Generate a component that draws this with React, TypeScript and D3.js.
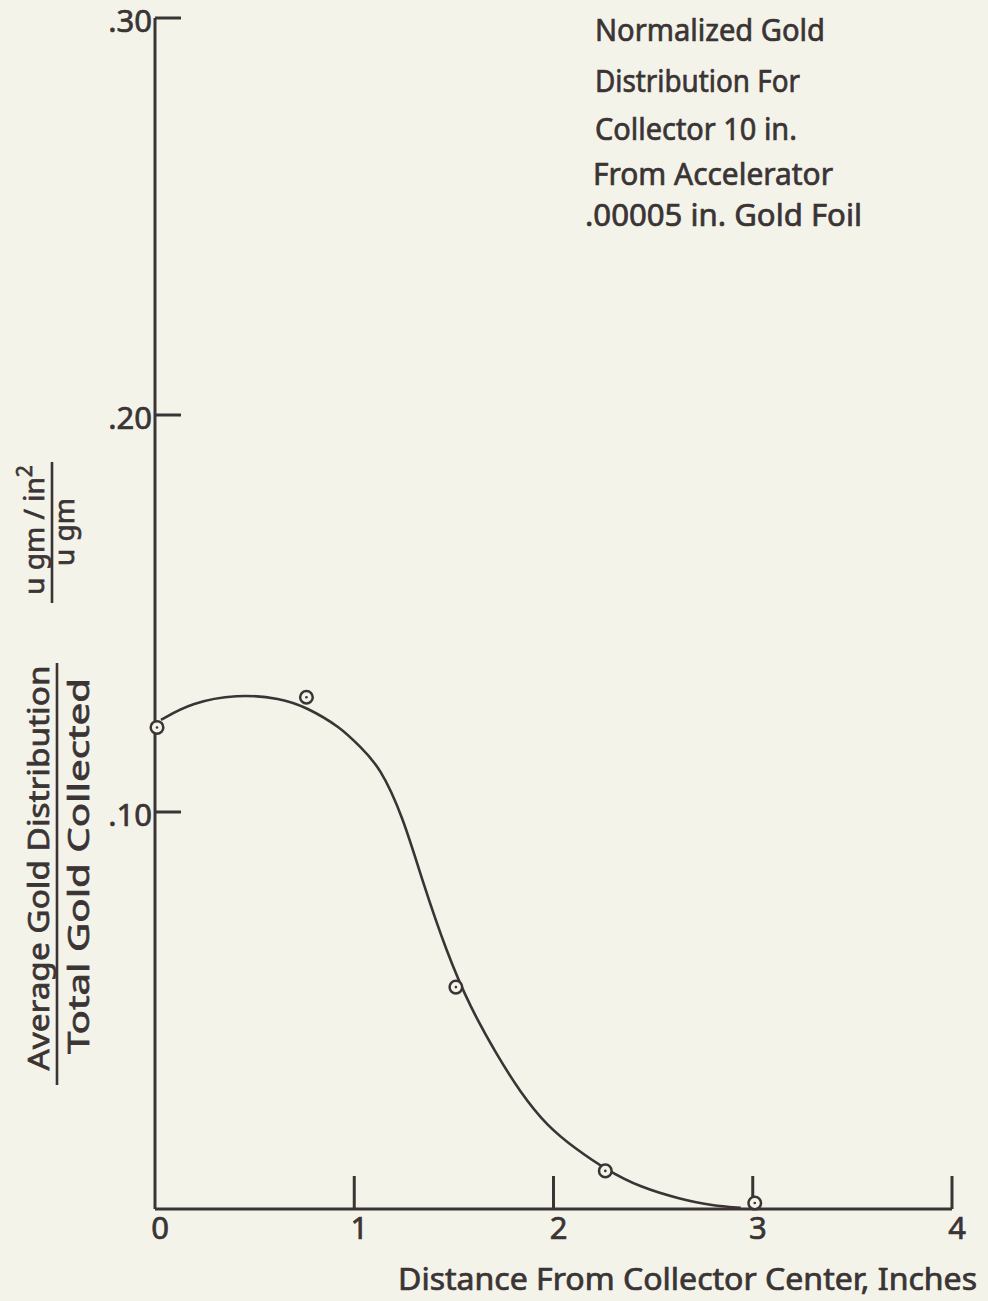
import React from "react";
import * as d3 from "d3";

const xTicks = [0, 1, 2, 3, 4];
const xTickLabels = ["0", "1", "2", "3", "4"];
const yTicks = [0.1, 0.2, 0.3];
const yTickLabels = [".10", ".20", ".30"];

const pointX = [0, 0.75, 1.5, 2.25, 3];
const pointY = [0.1213, 0.1289, 0.0559, 0.0096, 0.0015];

const curveX = [0.03, 0.18, 0.41, 0.63, 0.76, 0.93, 1.03, 1.13, 1.245, 1.34, 1.465, 1.581, 1.716, 1.832, 1.967, 2.118, 2.268, 2.434, 2.635, 2.8, 2.94];
const curveY = [0.1232, 0.1275, 0.1297, 0.1287, 0.1264, 0.1214, 0.1164, 0.1113, 0.0987, 0.0829, 0.0645, 0.0509, 0.0388, 0.0295, 0.0209, 0.0149, 0.0098, 0.0055, 0.0025, 0.0008, 0.0003];

const titleLines = ["Normalized Gold", "Distribution For", "Collector 10 in.", "From Accelerator", ".00005 in. Gold Foil"];
const xLabel = "Distance From Collector Center, Inches";
const yLabelNum = "Average Gold Distribution";
const yLabelDen = "Total Gold Collected";
const unitNum = "u gm / in";
const unitDen = "u gm";

const INK = "#3a3435";
const BG = "#f4f3ea";
const FONT = "'Noto Sans', 'DejaVu Sans', sans-serif";

export default function App() {
  const W = 988, H = 1301;
  const x = d3.scaleLinear().domain([0, 4]).range([155, 952]);
  const y = d3.scaleLinear().domain([0, 0.3]).range([1209, 18]);
  const line = d3
    .line<number>()
    .x((_, i) => x(curveX[i]))
    .y((_, i) => y(curveY[i]))
    .curve(d3.curveBasis);
  const pathD = line(curveX) || "";

  const titleMeta = [
    { x0: 595, x1: 825, base: 41 },
    { x0: 595, x1: 800, base: 92 },
    { x0: 595, x1: 797, base: 140 },
    { x0: 593, x1: 833, base: 185 },
    { x0: 585, x1: 862, base: 226 },
  ];
  const ts = { stroke: INK, strokeWidth: 0.7, fill: INK };

  return (
    <svg width={W} height={H} style={{ position: "absolute", left: 0, top: 0 }} fontFamily={FONT}>
      <rect width={W} height={H} fill={BG} />
      {/* axes */}
      <line x1={x(0)} x2={x(0)} y1={y(0.3)} y2={y(0)} stroke={INK} strokeWidth={3} />
      <line x1={x(0)} x2={x(4)} y1={y(0)} y2={y(0)} stroke={INK} strokeWidth={3} />
      {yTicks.map((t, i) => (
        <g key={"yt" + i}>
          <line x1={x(0)} x2={x(0) + 26} y1={y(t)} y2={y(t)} stroke={INK} strokeWidth={3} />
          <text x={x(0) - 3} y={y(t) + 14} textAnchor="end" fontSize={31} {...ts}>
            {yTickLabels[i]}
          </text>
        </g>
      ))}
      {xTicks.map((t, i) => (
        <g key={"xt" + i}>
          {t > 0 && <line x1={x(t)} x2={x(t)} y1={y(0)} y2={y(0) - 33} stroke={INK} strokeWidth={3} />}
          <text x={x(t) + 5} y={1239} textAnchor="middle" fontSize={31} {...ts}>
            {xTickLabels[i]}
          </text>
        </g>
      ))}
      {/* curve */}
      <path d={pathD} fill="none" stroke={INK} strokeWidth={2.6} />
      {/* points */}
      {pointX.map((px, i) => (
        <g key={"p" + i}>
          <circle cx={x(px) + 2} cy={y(pointY[i])} r={6.3} fill={BG} stroke={INK} strokeWidth={2.5} />
          <circle cx={x(px) + 2} cy={y(pointY[i])} r={1.3} fill={INK} />
        </g>
      ))}
      {/* title */}
      {titleLines.map((t, i) => (
        <text
          key={"tl" + i}
          x={titleMeta[i].x0}
          y={titleMeta[i].base}
          fontSize={31}
          {...ts}
          textLength={titleMeta[i].x1 - titleMeta[i].x0}
          lengthAdjust="spacingAndGlyphs"
        >
          {t}
        </text>
      ))}
      {/* x label */}
      <text x={398} y={1290} fontSize={30} {...ts} textLength={579} lengthAdjust="spacingAndGlyphs">
        {xLabel}
      </text>
      {/* y label */}
      <g transform="translate(49,868) rotate(-90)">
        <text x={0} y={0} textAnchor="middle" fontSize={29} {...ts} textLength={405} lengthAdjust="spacingAndGlyphs">
          {yLabelNum}
        </text>
      </g>
      <line x1={57} x2={57} y1={663} y2={1085} stroke={INK} strokeWidth={2.6} />
      <g transform="translate(89,866) rotate(-90)">
        <text x={0} y={0} textAnchor="middle" fontSize={29} {...ts} textLength={376} lengthAdjust="spacingAndGlyphs">
          {yLabelDen}
        </text>
      </g>
      <g transform="translate(44,530) rotate(-90)">
        <text x={0} y={0} textAnchor="middle" fontSize={28} {...ts}>
          {unitNum}
          <tspan dy={-12} fontSize={21}>2</tspan>
        </text>
      </g>
      <line x1={52} x2={52} y1={462} y2={603} stroke={INK} strokeWidth={2.6} />
      <g transform="translate(74,532) rotate(-90)">
        <text x={0} y={0} textAnchor="middle" fontSize={28} {...ts}>
          {unitDen}
        </text>
      </g>
    </svg>
  );
}
